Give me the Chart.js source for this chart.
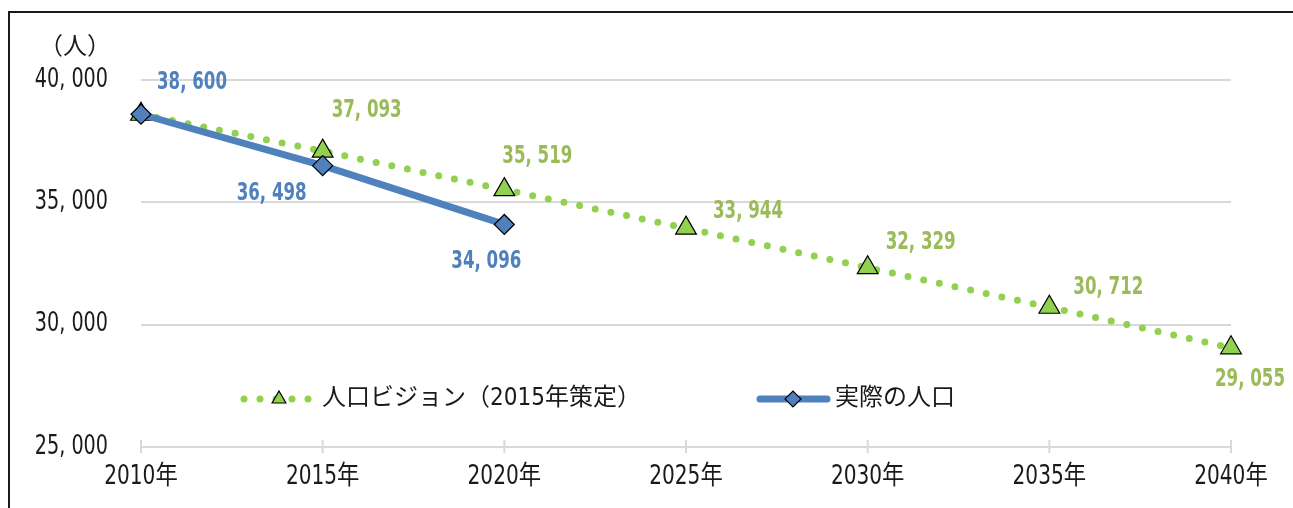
<!DOCTYPE html>
<html lang="ja">
<head>
<meta charset="utf-8">
<title>人口ビジョンと実際の人口</title>
<script src="https://cdn.jsdelivr.net/npm/chart.js@4.4.1/dist/chart.umd.min.js"></script>
<style>
    html, body { margin: 0; padding: 0; background: #fff; overflow: hidden; }
    #moldura { position: absolute; left: 8px; top: 11px; width: 1400px; height: 600px; border: 2px solid #1a1a1a; }
    #area { position: absolute; left: 0; top: 0; width: 1293px; height: 508px; }
</style>
</head>
<body>
<div id="moldura"></div>
<div id="area"><canvas id="grafico"></canvas></div>
<script>
// Dados do gráfico
const anos = ['2010年', '2015年', '2020年', '2025年', '2030年', '2035年', '2040年'];
const visao = [38600, 37093, 35519, 33944, 32329, 30712, 29055];
const real = [38600, 36498, 34096, null, null, null, null];
const eixoY = [25000, 30000, 35000, 40000];

const fonteNum = '"DejaVu Sans Condensed", "Noto Sans CJK JP", sans-serif';
const fonteJp = '"Noto Sans CJK JP", sans-serif';
const verde = '#92d050', verdeTexto = '#9bbb59', azul = '#4f81bd', preto = '#1a1a1a';

function formata(v) {
    return v.toLocaleString('en-US').replace(',', ', ');
}

// texto comprimido na horizontal (fonte estreita do original)
function texto(ctx, s, x, y, sx, align) {
    ctx.save();
    ctx.translate(x, y);
    ctx.scale(sx, 1);
    ctx.textAlign = align;
    ctx.textBaseline = 'middle';
    ctx.fillText(s, 0, 0);
    ctx.restore();
}

// Rótulos de dados (deslocamento a partir do ponto)
const deslocVisao = [null, [44, -41], [33, -33], [62, -17], [53, -25], [59, -20], [19, 32]];
const deslocReal = [[51, -32], [-51, 28], [-18, 37]];

const pluginExtras = {
    id: 'extras',
    beforeDatasetsDraw(chart) {
        const ctx = chart.ctx, x = chart.scales.x, base = chart.chartArea.bottom;
        ctx.save();
        ctx.strokeStyle = '#d9d9d9';
        ctx.lineWidth = 2;
        anos.forEach((a, i) => {
            const px = x.getPixelForTick(i);
            ctx.beginPath();
            ctx.moveTo(px, base - 7);
            ctx.lineTo(px, base + 6);
            ctx.stroke();
        });
        ctx.restore();
    },
    afterDatasetsDraw(chart) {
        const ctx = chart.ctx, sx = chart.scales.x, sy = chart.scales.y;
        ctx.save();

        // eixos
        ctx.fillStyle = preto;
        ctx.font = '26px ' + fonteNum;
        eixoY.forEach(v => texto(ctx, formata(v), 108, sy.getPixelForValue(v), 0.82, 'right'));
        anos.forEach((a, i) => texto(ctx, a, sx.getPixelForTick(i), 477, 0.86, 'center'));

        // rótulos de dados
        ctx.font = 'bold 25px ' + fonteNum;
        [[0, deslocVisao, verdeTexto], [1, deslocReal, azul]].forEach(([idx, desl, cor]) => {
            const meta = chart.getDatasetMeta(idx);
            const dados = chart.data.datasets[idx].data;
            ctx.fillStyle = cor;
            meta.data.forEach((p, i) => {
                if (dados[i] == null || !desl[i]) return;
                texto(ctx, formata(dados[i]), p.x + desl[i][0], p.y + desl[i][1], 0.74, 'center');
            });
        });

        // unidade
        ctx.fillStyle = preto;
        ctx.font = '24px ' + fonteJp;
        texto(ctx, '（人）', 75, 45, 1, 'center');

        // legenda
        const ly = 399;
        ctx.lineCap = 'round';
        ctx.strokeStyle = verde;
        ctx.lineWidth = 7;
        ctx.setLineDash([0, 16]);
        ctx.beginPath();
        ctx.moveTo(244, ly);
        ctx.lineTo(314, ly);
        ctx.stroke();
        ctx.setLineDash([]);
        ctx.fillStyle = verde;
        ctx.strokeStyle = '#000';
        ctx.lineWidth = 1.2;
        Chart.helpers.drawPoint(ctx, { pointStyle: 'triangle', radius: 8, rotation: 0, borderWidth: 1.2 }, 279, ly);
        ctx.strokeStyle = azul;
        ctx.lineWidth = 7;
        ctx.beginPath();
        ctx.moveTo(760, ly);
        ctx.lineTo(827, ly);
        ctx.stroke();
        ctx.fillStyle = azul;
        ctx.strokeStyle = '#000';
        ctx.lineWidth = 1.2;
        Chart.helpers.drawPoint(ctx, { pointStyle: 'rectRot', radius: 8, rotation: 0, borderWidth: 1.2 }, 793, ly);
        ctx.fillStyle = preto;
        ctx.font = '24px ' + fonteNum;
        texto(ctx, chart.data.datasets[0].label, 322, ly, 1, 'left');
        texto(ctx, chart.data.datasets[1].label, 835, ly, 1, 'left');
        ctx.restore();
    }
};

document.addEventListener('DOMContentLoaded', function () {
    new Chart(document.getElementById('grafico').getContext('2d'), {
        type: 'line',
        data: {
            labels: anos,
            datasets: [{
                label: '人口ビジョン（2015年策定）',
                data: visao,
                borderColor: verde,
                borderWidth: 7,
                borderDash: [0, 16],
                borderCapStyle: 'round',
                pointStyle: 'triangle',
                pointRadius: 12,
                pointBackgroundColor: verde,
                pointBorderColor: '#000',
                pointBorderWidth: 1.2,
                order: 2
            }, {
                label: '実際の人口',
                data: real,
                borderColor: azul,
                borderWidth: 7,
                pointStyle: 'rectRot',
                pointRadius: 10,
                pointBackgroundColor: azul,
                pointBorderColor: '#000',
                pointBorderWidth: 1.2,
                order: 1
            }]
        },
        options: {
            responsive: true,
            maintainAspectRatio: false,
            animation: false,
            layout: { padding: { top: 80, right: 62, left: 0, bottom: 0 } },
            plugins: { legend: { display: false }, tooltip: { enabled: false } },
            scales: {
                x: {
                    offset: false,
                    grid: { display: false, drawTicks: false },
                    border: { display: true, color: '#d9d9d9', width: 2 },
                    ticks: { display: false },
                    afterFit(s) { s.height = 61; }
                },
                y: {
                    min: eixoY[0],
                    max: eixoY[eixoY.length - 1],
                    afterBuildTicks(s) { s.ticks = eixoY.map(v => ({ value: v })); },
                    grid: { color: '#d9d9d9', lineWidth: 2, drawTicks: false },
                    border: { display: false },
                    ticks: { display: false },
                    afterFit(s) { s.width = 141; }
                }
            }
        },
        plugins: [pluginExtras]
    });
});
</script>
</body>
</html>
